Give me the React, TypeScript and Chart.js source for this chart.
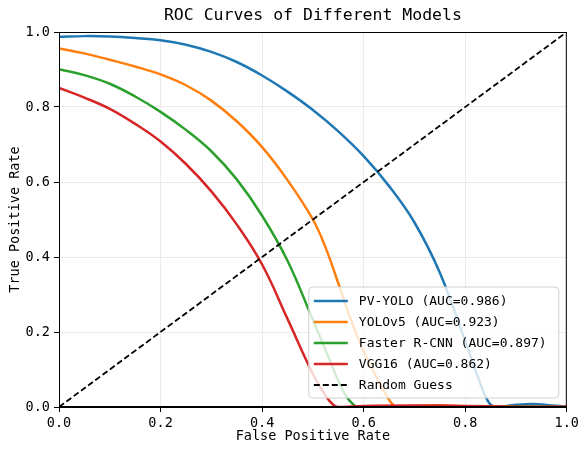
import React, { useEffect, useRef } from "react";
import { Chart, registerables } from "chart.js";

Chart.register(...registerables);

const FONT = "'DejaVu Sans Mono', monospace";

const chartTitle = "ROC Curves of Different Models";
const xAxisLabel = "False Positive Rate";
const yAxisLabel = "True Positive Rate";
const tickValues = [0, 0.2, 0.4, 0.6, 0.8, 1.0];

const seriesNames = [
  "PV-YOLO (AUC=0.986)",
  "YOLOv5 (AUC=0.923)",
  "Faster R-CNN (AUC=0.897)",
  "VGG16 (AUC=0.862)",
  "Random Guess",
];
const seriesColors = ["#1f77b4", "#ff7f0e", "#2ca02c", "#d62728", "#000000"];

const pvYoloFpr = [0, 0.05, 0.1, 0.15, 0.2, 0.25, 0.3, 0.35, 0.4, 0.45, 0.5, 0.55, 0.6, 0.65, 0.7, 0.75, 0.8, 0.825, 0.845, 0.86, 0.9, 0.935, 0.97, 1];
const pvYoloTpr = [0.987, 0.989, 0.988, 0.984, 0.978, 0.966, 0.947, 0.92, 0.884, 0.841, 0.792, 0.735, 0.669, 0.589, 0.492, 0.358, 0.175, 0.08, 0.015, 0, 0.006, 0.008, 0.004, 0.001];

const yolov5Fpr = [0, 0.05, 0.1, 0.15, 0.2, 0.25, 0.3, 0.35, 0.4, 0.45, 0.5, 0.525, 0.55, 0.575, 0.6, 0.625, 0.64, 0.655, 0.665, 0.7, 0.75, 0.8, 0.85, 1];
const yolov5Tpr = [0.956, 0.943, 0.926, 0.908, 0.887, 0.858, 0.817, 0.762, 0.693, 0.605, 0.5, 0.425, 0.33, 0.232, 0.148, 0.08, 0.042, 0.01, 0, 0.003, 0.004, 0.002, 0, 0];

const fasterRcnnFpr = [0, 0.05, 0.1, 0.15, 0.2, 0.25, 0.3, 0.35, 0.4, 0.45, 0.5, 0.53, 0.55, 0.565, 0.58, 0.59, 0.7, 0.8, 1];
const fasterRcnnTpr = [0.901, 0.885, 0.862, 0.828, 0.787, 0.739, 0.682, 0.607, 0.51, 0.39, 0.232, 0.135, 0.07, 0.03, 0.006, 0, 0.002, 0.002, 0];

const vgg16Fpr = [0, 0.05, 0.1, 0.15, 0.2, 0.25, 0.3, 0.35, 0.4, 0.45, 0.5, 0.525, 0.54, 0.55, 0.6, 0.7, 0.8, 0.9, 1];
const vgg16Tpr = [0.851, 0.825, 0.795, 0.755, 0.708, 0.648, 0.575, 0.487, 0.38, 0.235, 0.088, 0.03, 0.006, 0, 0.003, 0.004, 0.003, 0.001, 0.001];

const randomFpr = [0, 1];
const randomTpr = [0, 1];

const seriesFpr = [pvYoloFpr, yolov5Fpr, fasterRcnnFpr, vgg16Fpr, randomFpr];
const seriesTpr = [pvYoloTpr, yolov5Tpr, fasterRcnnTpr, vgg16Tpr, randomTpr];

const toPoints = (xs: number[], ys: number[]) => xs.map((x, i) => ({ x, y: ys[i] }));

const framePlugin = {
  id: "frameAndTitle",
  afterDatasetsDraw(chart: any) {
    const { ctx, chartArea } = chart;
    const { left, right, top, bottom } = chartArea;
    ctx.save();
    ctx.strokeStyle = "#000";
    ctx.lineWidth = 1;
    ctx.strokeRect(left + 0.5, top + 0.5, right - left - 1, bottom - top - 1);
    ctx.fillStyle = "#000";
    ctx.font = `16.5px ${FONT}`;
    ctx.textAlign = "center";
    ctx.textBaseline = "middle";
    ctx.fillText(chartTitle, (left + right) / 2, 16);
    ctx.restore();
  },
};

const legendPlugin = {
  id: "insideLegend",
  afterDraw(chart: any) {
    const { ctx, chartArea } = chart;
    const boxW = 250;
    const boxH = 111;
    const x0 = chartArea.right - 8 - boxW;
    const y0 = chartArea.bottom - 9 - boxH;
    ctx.save();
    const r = 4;
    ctx.beginPath();
    ctx.moveTo(x0 + r, y0);
    ctx.lineTo(x0 + boxW - r, y0);
    ctx.quadraticCurveTo(x0 + boxW, y0, x0 + boxW, y0 + r);
    ctx.lineTo(x0 + boxW, y0 + boxH - r);
    ctx.quadraticCurveTo(x0 + boxW, y0 + boxH, x0 + boxW - r, y0 + boxH);
    ctx.lineTo(x0 + r, y0 + boxH);
    ctx.quadraticCurveTo(x0, y0 + boxH, x0, y0 + boxH - r);
    ctx.lineTo(x0, y0 + r);
    ctx.quadraticCurveTo(x0, y0, x0 + r, y0);
    ctx.closePath();
    ctx.fillStyle = "rgba(255,255,255,0.8)";
    ctx.fill();
    ctx.strokeStyle = "#d0d0d0";
    ctx.lineWidth = 1;
    ctx.stroke();

    ctx.font = `13px ${FONT}`;
    ctx.textBaseline = "middle";
    ctx.textAlign = "left";
    chart.data.datasets.forEach((ds: any, i: number) => {
      const cy = y0 + 14 + i * 21;
      ctx.beginPath();
      ctx.strokeStyle = ds.borderColor;
      ctx.lineWidth = ds.borderWidth;
      ctx.setLineDash(ds.borderDash || []);
      ctx.moveTo(x0 + 5, cy);
      ctx.lineTo(x0 + 39, cy);
      ctx.stroke();
      ctx.setLineDash([]);
      ctx.fillStyle = "#000";
      ctx.fillText(ds.label, x0 + 50, cy + 1);
    });
    ctx.restore();
  },
};

export default function App() {
  const canvasRef = useRef<HTMLCanvasElement | null>(null);

  useEffect(() => {
    if (!canvasRef.current) return;
    const datasets = seriesNames.map((name, i) => {
      const isRandom = i === 4;
      return {
        label: name,
        data: toPoints(seriesFpr[i], seriesTpr[i]),
        borderColor: seriesColors[i],
        backgroundColor: seriesColors[i],
        borderWidth: isRandom ? 1.8 : 2.5,
        borderDash: isRandom ? [6, 3] : [],
        pointRadius: 0,
        fill: false,
        tension: 0.4,
        order: 5 - i,
      };
    });

    const tickFont = { family: FONT, size: 13.5 };
    const chart = new Chart(canvasRef.current, {
      type: "line",
      data: { datasets },
      plugins: [framePlugin, legendPlugin],
      options: {
        responsive: false,
        animation: false,
        layout: { padding: { left: 0, right: 12, top: 32, bottom: 0 } },
        plugins: {
          legend: { display: false },
          title: { display: false },
          tooltip: { enabled: false },
        },
        scales: {
          x: {
            type: "linear",
            min: 0,
            max: 1,
            afterBuildTicks: (scale: any) => {
              scale.ticks = tickValues.map((v) => ({ value: v }));
            },
            afterFit: (scale: any) => {
              scale.height = 43;
            },
            ticks: {
              font: tickFont,
              color: "#000",
              padding: 3,
              maxRotation: 0,
              callback: (v: any) => Number(v).toFixed(1),
            },
            grid: {
              color: "#ebebeb",
              lineWidth: 1,
              tickColor: "#000",
              tickLength: 5,
              tickWidth: 1,
            },
            border: { display: true, color: "#000" },
            title: {
              display: true,
              text: xAxisLabel,
              font: { family: FONT, size: 13.5 },
              color: "#000",
              padding: { top: 0, bottom: 5 },
            },
          },
          y: {
            type: "linear",
            min: 0,
            max: 1,
            afterBuildTicks: (scale: any) => {
              scale.ticks = tickValues.map((v) => ({ value: v }));
            },
            afterFit: (scale: any) => {
              scale.width = 59;
            },
            ticks: {
              font: tickFont,
              color: "#000",
              padding: 4,
              callback: (v: any) => Number(v).toFixed(1),
            },
            grid: {
              color: "#ebebeb",
              lineWidth: 1,
              tickColor: "#000",
              tickLength: 5,
              tickWidth: 1,
            },
            border: { display: true, color: "#000" },
            title: {
              display: true,
              text: yAxisLabel,
              font: { family: FONT, size: 13.5 },
              color: "#000",
              padding: { top: 7, bottom: 0 },
            },
          },
        },
      },
    });
    return () => chart.destroy();
  }, []);

  return (
    <div style={{ position: "fixed", left: 0, top: 0, width: 582, height: 450, background: "#fff" }}>
      <canvas ref={canvasRef} width={582} height={450} style={{ width: 582, height: 450, display: "block" }} />
    </div>
  );
}
